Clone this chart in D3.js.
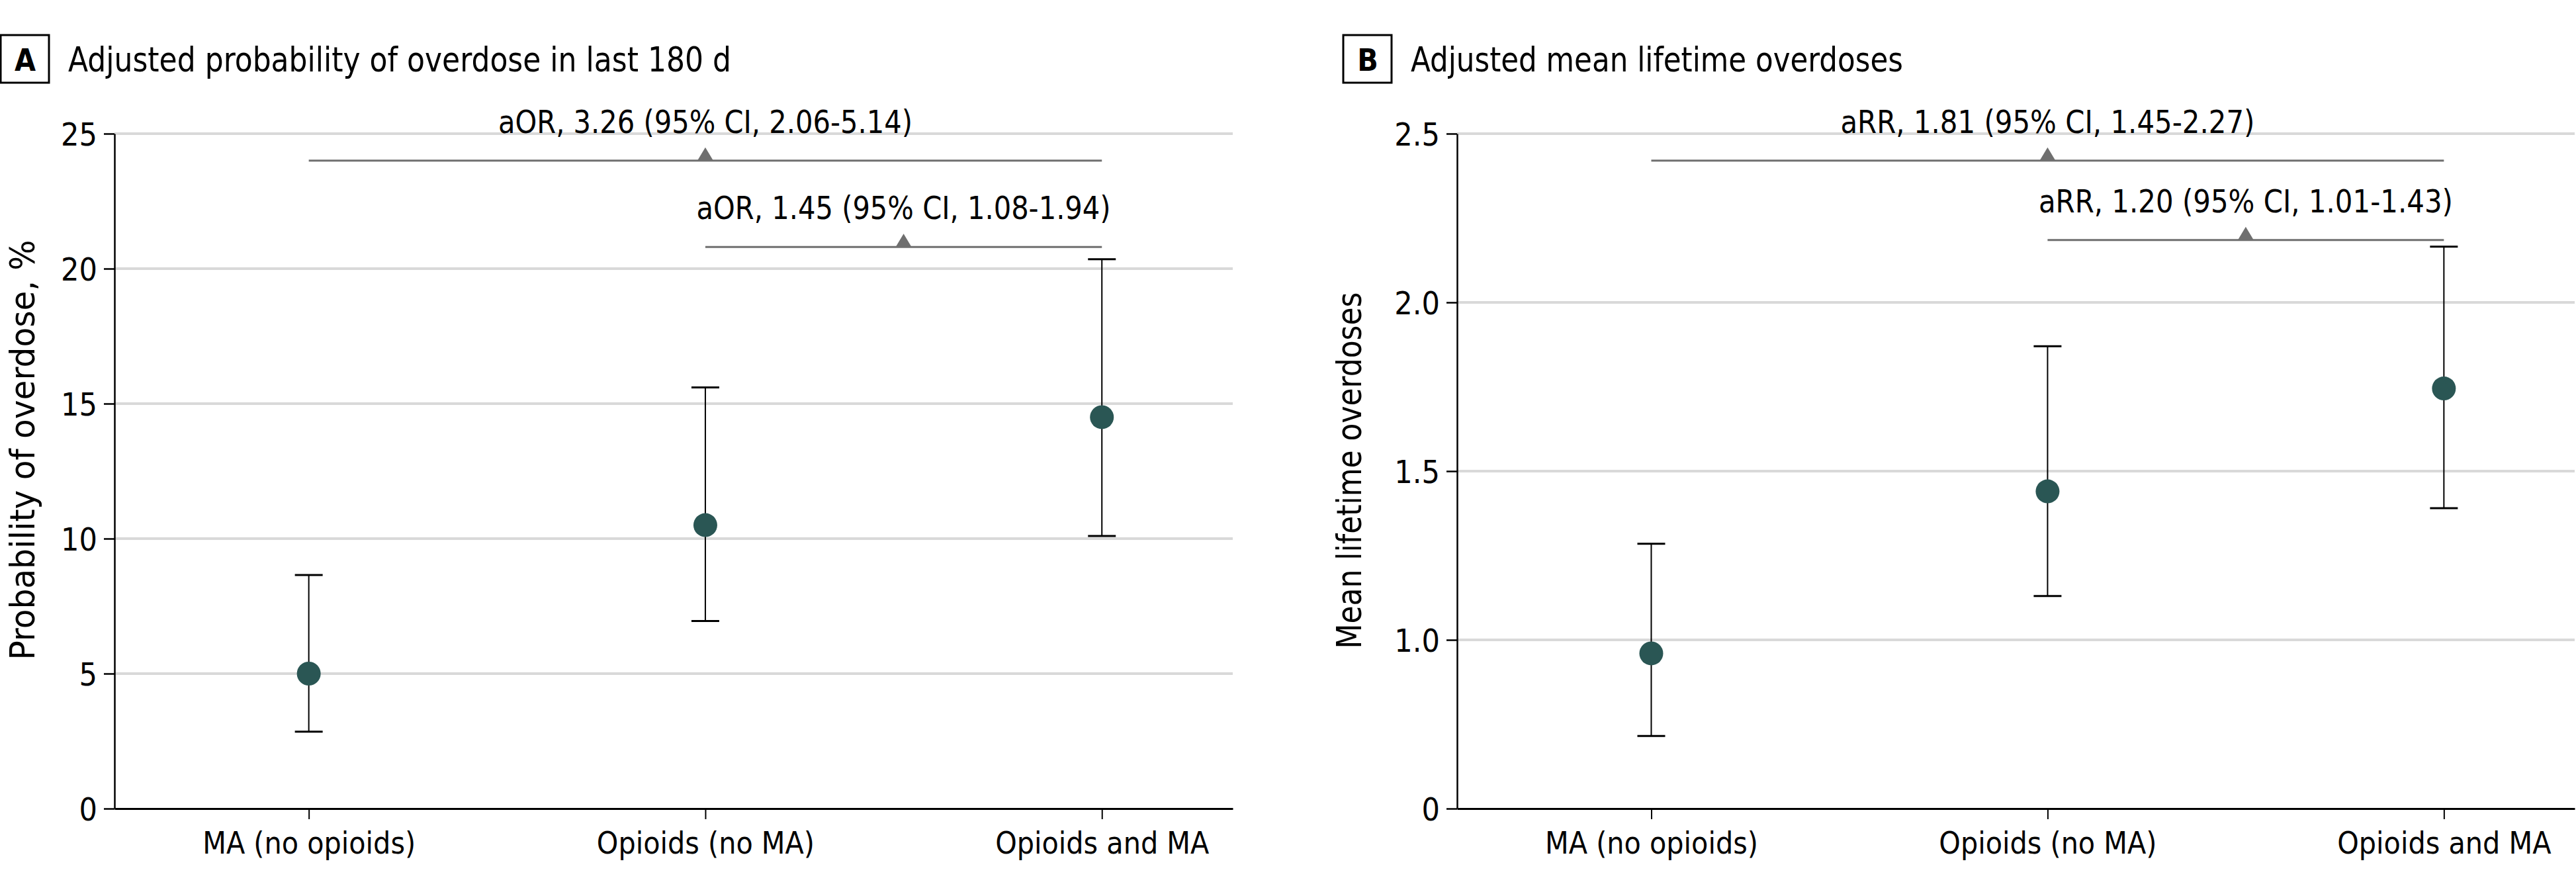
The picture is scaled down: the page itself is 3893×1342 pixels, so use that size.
<!DOCTYPE html>
<html>
<head>
<meta charset="utf-8">
<script src="https://cdn.jsdelivr.net/npm/d3@7"></script>
<style>
  body { margin: 0; background: #fff; }
  svg text { font-family: "Liberation Sans Narrow", "DejaVu Sans Condensed", "Arial Narrow", sans-serif; fill: #000; }
</style>
</head>
<body>
<div id="chart"></div>
<script>
// data
var categories = ["MA (no opioids)", "Opioids (no MA)", "Opioids and MA"];

var probEstimate = [5.0, 10.5, 14.5];
var probLower = [2.85, 6.95, 10.1];
var probUpper = [8.65, 15.6, 20.35];
var probTicks = [0, 5, 10, 15, 20, 25];
var probTickLabels = ["0", "5", "10", "15", "20", "25"];
var probComparisons = [
    {from: 0, to: 2, at: 24.0, label: "aOR, 3.26 (95% CI, 2.06-5.14)"},
    {from: 1, to: 2, at: 20.8, label: "aOR, 1.45 (95% CI, 1.08-1.94)"}
];

var odEstimate = [0.96, 1.44, 1.745];
var odLower = [0.715, 1.13, 1.39];
var odUpper = [1.285, 1.87, 2.165];
// bottom of the axis is a break: labelled 0, drawn at 0.5
var odTicks = [0.5, 1.0, 1.5, 2.0, 2.5];
var odTickLabels = ["0", "1.0", "1.5", "2.0", "2.5"];
var odComparisons = [
    {from: 0, to: 2, at: 2.42, label: "aRR, 1.81 (95% CI, 1.45-2.27)"},
    {from: 1, to: 2, at: 2.185, label: "aRR, 1.20 (95% CI, 1.01-1.43)"}
];

var W = 3893, H = 1342, fs = 48;
var plotTop = 202, plotBottom = 1222;

var svg = d3.select("#chart").append("svg")
    .attr("width", W)
    .attr("height", H);

function drawPanel(p) {
    var g = svg.append("g");

    var x = d3.scaleLinear().domain([-0.49, 2.33]).range([p.left, p.right]);
    var y = d3.scaleLinear().domain(p.domain).range([plotBottom, plotTop]);

    // panel letter + title
    g.append("rect")
        .attr("x", p.left - 172).attr("y", 53)
        .attr("width", 73).attr("height", 72)
        .attr("fill", "none").attr("stroke", "#000").attr("stroke-width", 3);
    g.append("text")
        .attr("x", p.left - 172 + 37).attr("y", 107)
        .attr("text-anchor", "middle")
        .attr("font-weight", "bold")
        .attr("font-size", 46)
        .text(p.letter);
    g.append("text")
        .attr("x", p.left - 70).attr("y", 108)
        .attr("font-size", 52)
        .attr("textLength", p.titleWidth)
        .attr("lengthAdjust", "spacingAndGlyphs")
        .text(p.title);

    // gridlines
    g.append("g").selectAll("line")
        .data(p.ticks.slice(1))
        .enter().append("line")
        .attr("x1", p.left).attr("x2", p.right)
        .attr("y1", function(d) { return y(d); })
        .attr("y2", function(d) { return y(d); })
        .attr("stroke", "#d9d9d9").attr("stroke-width", 4);

    // y axis
    var yAxis = g.append("g")
        .attr("transform", "translate(" + p.left + ",0)")
        .call(d3.axisLeft(y).tickValues(p.ticks)
            .tickFormat(function(d, i) { return p.tickLabels[i]; })
            .tickSize(16).tickPadding(10).tickSizeOuter(0));
    yAxis.attr("font-family", null);
    yAxis.select(".domain").attr("stroke", "#000").attr("stroke-width", 2.5);
    yAxis.selectAll(".tick line").attr("stroke", "#000").attr("stroke-width", 2.5);
    yAxis.selectAll(".tick text").attr("font-size", fs).attr("fill", "#000").attr("dy", "0.36em");

    // x axis
    var xAxis = g.append("g")
        .attr("transform", "translate(0," + plotBottom + ")")
        .call(d3.axisBottom(x).tickValues([0, 1, 2])
            .tickFormat(function(d) { return categories[d]; })
            .tickSize(16).tickPadding(19).tickSizeOuter(0));
    xAxis.attr("font-family", null);
    xAxis.select(".domain").attr("stroke", "#000").attr("stroke-width", 3);
    xAxis.selectAll(".tick line").attr("stroke", "#000").attr("stroke-width", 2);
    xAxis.selectAll(".tick text").attr("font-size", 46).attr("fill", "#000");

    // y axis title
    g.append("text")
        .attr("transform", "translate(" + (p.left - p.labelOffset) + "," + p.labelCenter + ") rotate(-90)")
        .attr("text-anchor", "middle")
        .attr("font-size", 52)
        .attr("textLength", p.labelWidth)
        .attr("lengthAdjust", "spacingAndGlyphs")
        .text(p.yLabel);

    // comparison brackets
    var cmp = g.append("g").selectAll("g")
        .data(p.comparisons)
        .enter().append("g");
    cmp.append("line")
        .attr("x1", function(d) { return x(d.from); })
        .attr("x2", function(d) { return x(d.to); })
        .attr("y1", function(d) { return y(d.at); })
        .attr("y2", function(d) { return y(d.at); })
        .attr("stroke", "#6f6f6f").attr("stroke-width", 3);
    cmp.append("path")
        .attr("d", function(d) {
            var cx = (x(d.from) + x(d.to)) / 2, cy = y(d.at);
            return "M" + (cx - 12) + "," + cy + "L" + cx + "," + (cy - 20) + "L" + (cx + 12) + "," + cy + "Z";
        })
        .attr("fill", "#6f6f6f");
    cmp.append("text")
        .attr("x", function(d) { return (x(d.from) + x(d.to)) / 2; })
        .attr("y", function(d) { return y(d.at) - 42; })
        .attr("text-anchor", "middle")
        .attr("font-size", fs)
        .attr("textLength", 626)
        .attr("lengthAdjust", "spacingAndGlyphs")
        .text(function(d) { return d.label; });

    // error bars
    var bars = g.append("g").selectAll("g")
        .data(categories.map(function(c, i) {
            return {i: i, est: p.est[i], lo: p.lo[i], hi: p.hi[i]};
        }))
        .enter().append("g");
    bars.append("line")
        .attr("x1", function(d) { return x(d.i); })
        .attr("x2", function(d) { return x(d.i); })
        .attr("y1", function(d) { return y(d.lo); })
        .attr("y2", function(d) { return y(d.hi); })
        .attr("stroke", "#000").attr("stroke-width", 2);
    ["lo", "hi"].forEach(function(k) {
        bars.append("line")
            .attr("x1", function(d) { return x(d.i) - 21; })
            .attr("x2", function(d) { return x(d.i) + 21; })
            .attr("y1", function(d) { return y(d[k]); })
            .attr("y2", function(d) { return y(d[k]); })
            .attr("stroke", "#000").attr("stroke-width", 3);
    });
    bars.append("circle")
        .attr("cx", function(d) { return x(d.i); })
        .attr("cy", function(d) { return y(d.est); })
        .attr("r", 18)
        .attr("fill", "#2a5654");
}

drawPanel({
    letter: "A", title: "Adjusted probability of overdose in last 180 d", titleWidth: 1002,
    left: 173, right: 1863, domain: [0, 25],
    ticks: probTicks, tickLabels: probTickLabels,
    est: probEstimate, lo: probLower, hi: probUpper,
    comparisons: probComparisons,
    yLabel: "Probability of overdose, %", labelOffset: 121, labelCenter: 680, labelWidth: 635
});

drawPanel({
    letter: "B", title: "Adjusted mean lifetime overdoses", titleWidth: 744,
    left: 2202, right: 3891, domain: [0.5, 2.5],
    ticks: odTicks, tickLabels: odTickLabels,
    est: odEstimate, lo: odLower, hi: odUpper,
    comparisons: odComparisons,
    yLabel: "Mean lifetime overdoses", labelOffset: 145, labelCenter: 711, labelWidth: 539
});
</script>
</body>
</html>
